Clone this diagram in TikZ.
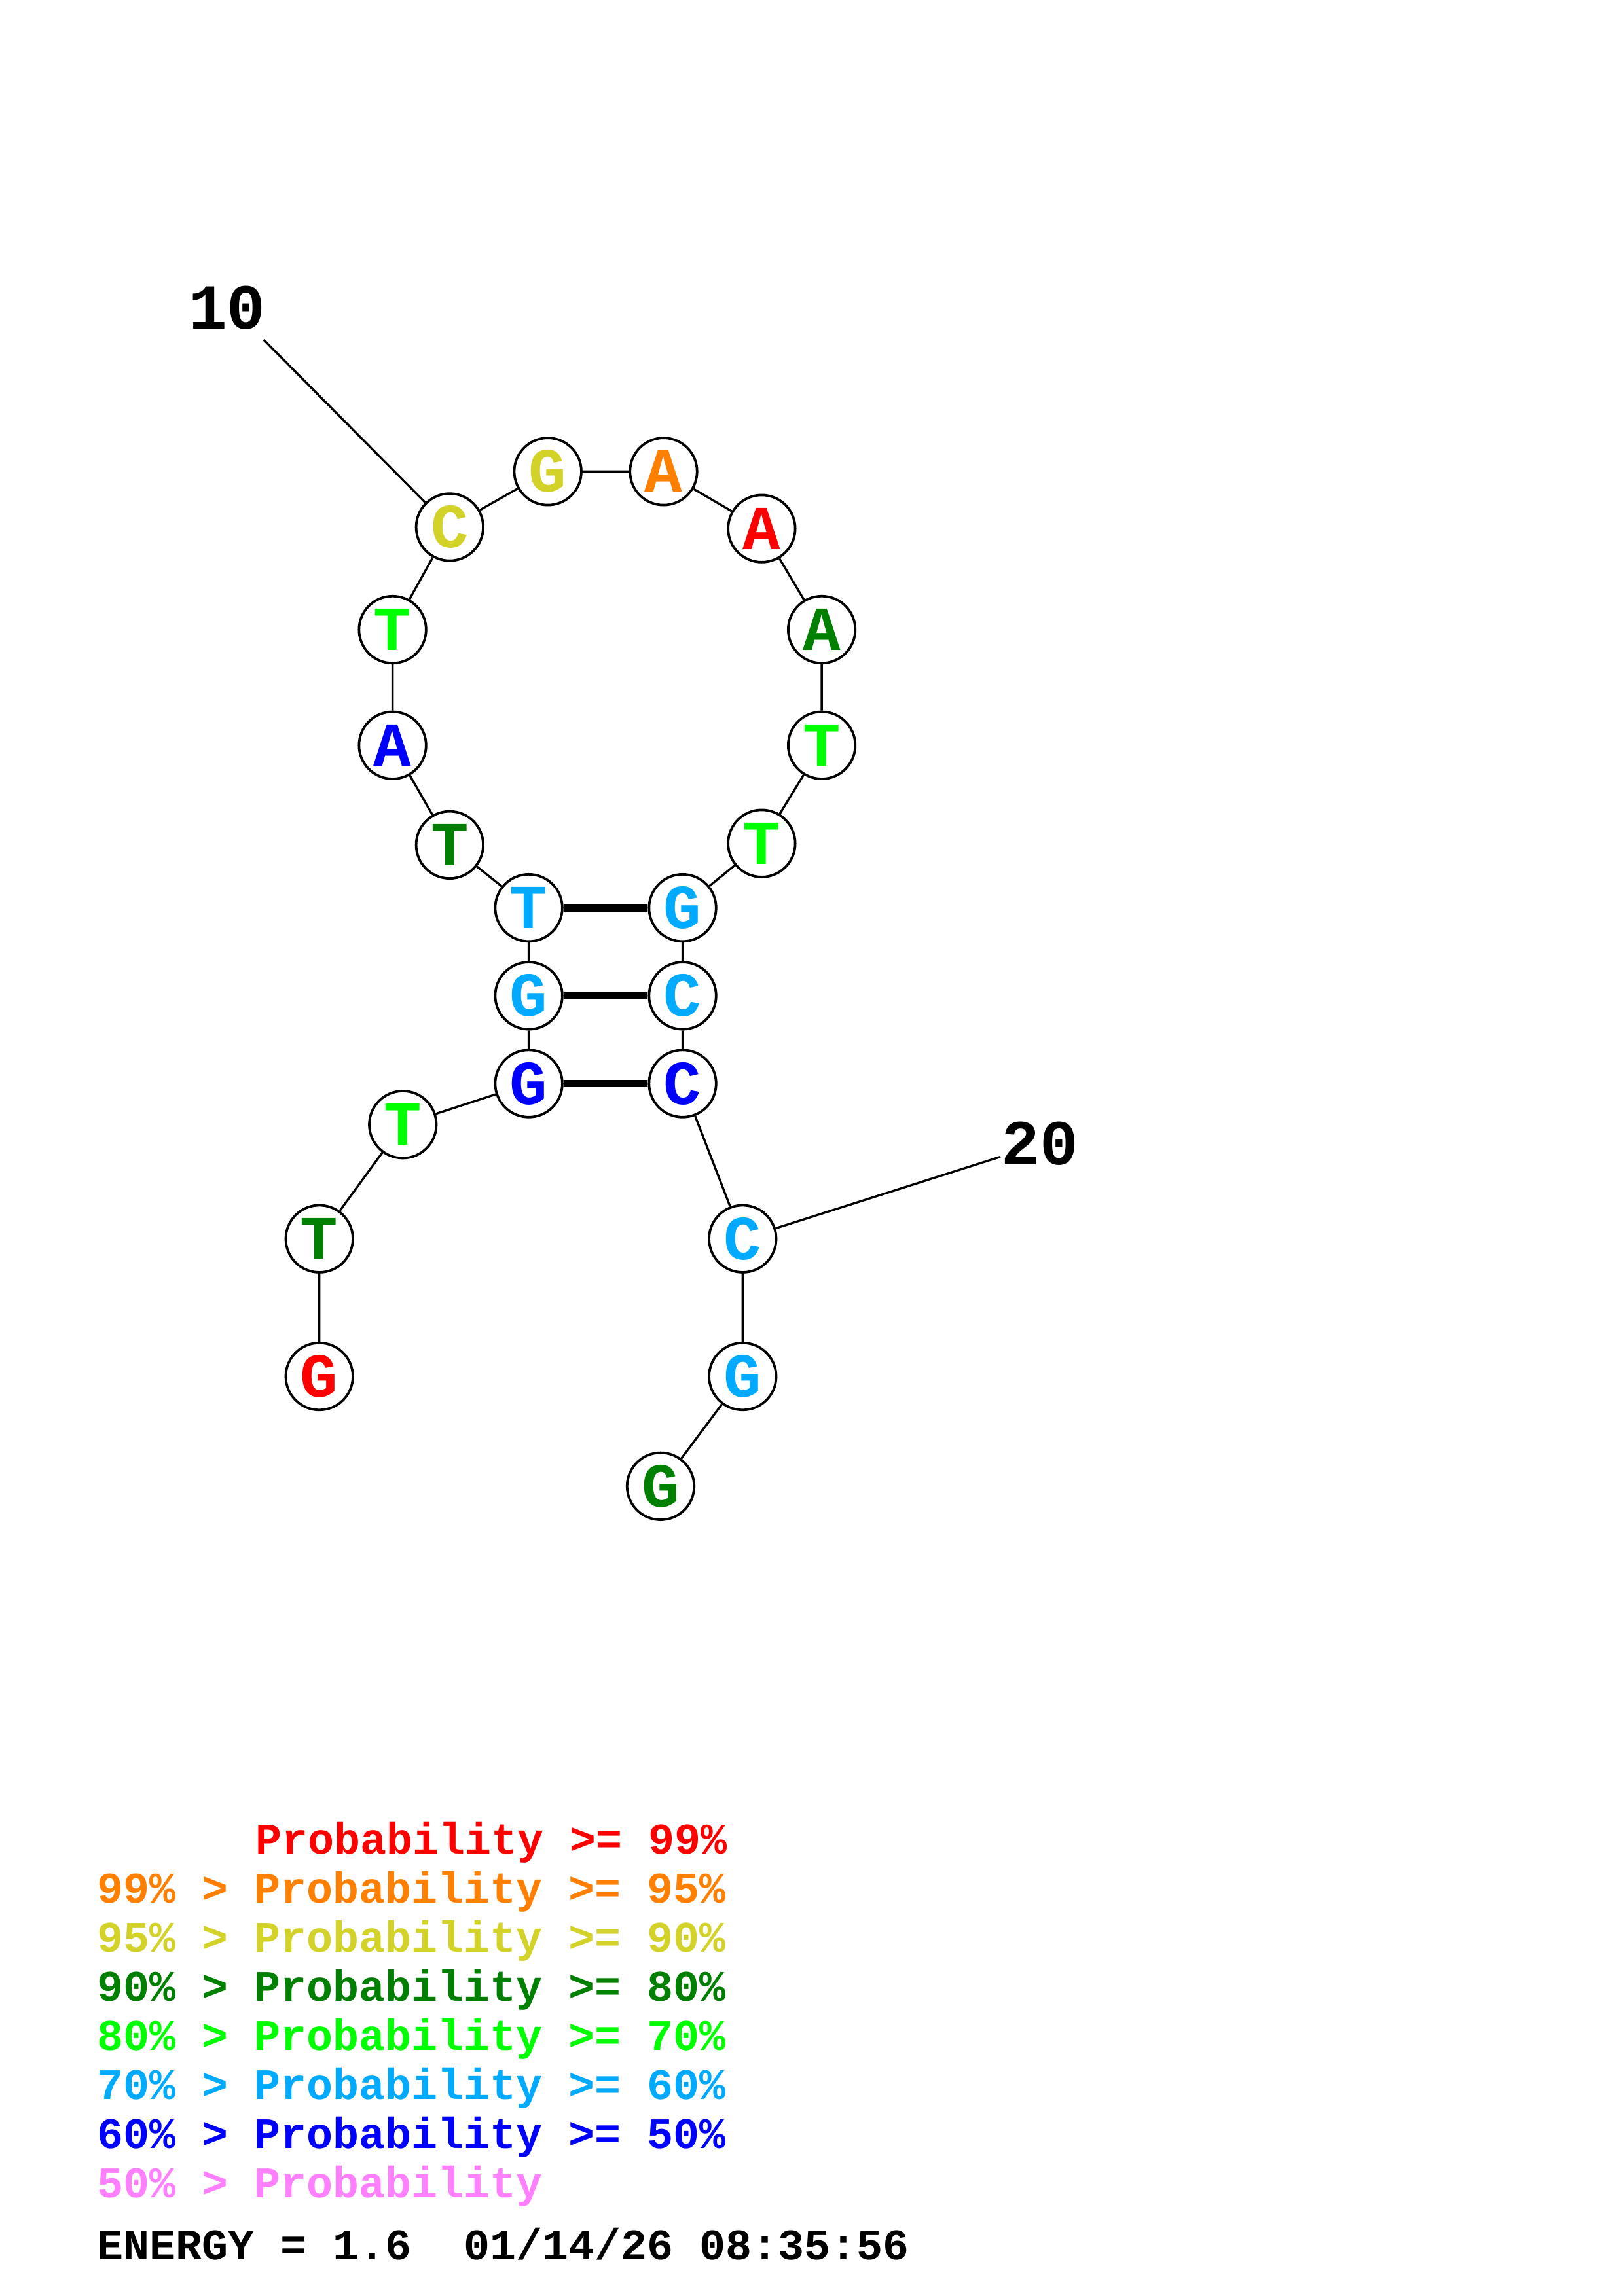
\documentclass[tikz,border=0pt]{standalone}
\usepackage{fontspec}
\setmainfont{Liberation Mono}
\definecolor{pr99}{RGB}{255,0,0}
\definecolor{pr95}{RGB}{255,128,0}
\definecolor{pr90}{RGB}{210,210,40}
\definecolor{pr80}{RGB}{0,128,0}
\definecolor{pr70}{RGB}{0,255,0}
\definecolor{pr60}{RGB}{0,170,255}
\definecolor{pr50}{RGB}{0,0,255}
\definecolor{prlow}{RGB}{255,128,255}

\begin{document}
\begin{tikzpicture}[x=0.537pt, y=-0.537pt,
            base/.style={circle, draw, line width=0.9pt, fill=white, minimum size=24.6pt,
                inner sep=0pt, font=\fontsize{23}{23}\selectfont\bfseries},
            bond/.style={line width=0.8pt},
            pair/.style={line width=2.7pt},
            numlabel/.style={inner sep=0pt, font=\fontsize{23.5}{24}\selectfont\bfseries},
            legend/.style={anchor=base west, inner sep=0pt, font=\fontsize{16}{16}\selectfont\bfseries}]
    \useasboundingbox (0,0) rectangle (1108,1568);
    % bases, 5' to 3'
    \node[base, text=pr99] (b1) at (218,940) {G};
    \node[base, text=pr80] (b2) at (218,846) {T};
    \node[base, text=pr70] (b3) at (275,768) {T};
    \node[base, text=pr50] (b4) at (361,740) {G};
    \node[base, text=pr60] (b5) at (361,680) {G};
    \node[base, text=pr60] (b6) at (361,620) {T};
    \node[base, text=pr80] (b7) at (307,577) {T};
    \node[base, text=pr50] (b8) at (268,509) {A};
    \node[base, text=pr70] (b9) at (268,430) {T};
    \node[base, text=pr90] (b10) at (307,360) {C};
    \node[base, text=pr90] (b11) at (374,322) {G};
    \node[base, text=pr95] (b12) at (453,322) {A};
    \node[base, text=pr99] (b13) at (520,361) {A};
    \node[base, text=pr80] (b14) at (561,430) {A};
    \node[base, text=pr70] (b15) at (561,509) {T};
    \node[base, text=pr70] (b16) at (520,576) {T};
    \node[base, text=pr60] (b17) at (466,620) {G};
    \node[base, text=pr60] (b18) at (466,680) {C};
    \node[base, text=pr50] (b19) at (466,740) {C};
    \node[base, text=pr60] (b20) at (507,846) {C};
    \node[base, text=pr60] (b21) at (507,940) {G};
    \node[base, text=pr80] (b22) at (451,1015) {G};
    % backbone
    \draw[bond] (b1) -- (b2) -- (b3) -- (b4) -- (b5) -- (b6) -- (b7) -- (b8) -- (b9) -- (b10) -- (b11);
    \draw[bond] (b11) -- (b12) -- (b13) -- (b14) -- (b15) -- (b16) -- (b17) -- (b18) -- (b19) -- (b20) -- (b21) -- (b22);
    % pairs
    \draw[pair] (b6) -- (b17);
    \draw[pair] (b5) -- (b18);
    \draw[pair] (b4) -- (b19);
    % numbering
    \node[numlabel] (n10) at (155,210) {10};
    \coordinate (t10) at (180,232);
    \draw[bond] (t10) -- (b10);
    \node[numlabel] (n20) at (710,781) {20};
    \coordinate (t20) at (683,790);
    \draw[bond] (b20) -- (t20);
    % legend
    \node[legend, text=pr99] (l99) at (174,1266) {Probability >= 99\%};
    \node[legend, text=pr95] (l95) at (66,1299.5) {99\% > Probability >= 95\%};
    \node[legend, text=pr90] (l90) at (66,1333) {95\% > Probability >= 90\%};
    \node[legend, text=pr80] (l80) at (66,1366.5) {90\% > Probability >= 80\%};
    \node[legend, text=pr70] (l70) at (66,1400) {80\% > Probability >= 70\%};
    \node[legend, text=pr60] (l60) at (66,1433.5) {70\% > Probability >= 60\%};
    \node[legend, text=pr50] (l50) at (66,1467) {60\% > Probability >= 50\%};
    \node[legend, text=prlow] (llow) at (66,1500.5) {50\% > Probability};
    \node[legend] (energy) at (66,1543) {ENERGY = 1.6\ \ 01/14/26 08:35:56};
\end{tikzpicture}
\end{document}
